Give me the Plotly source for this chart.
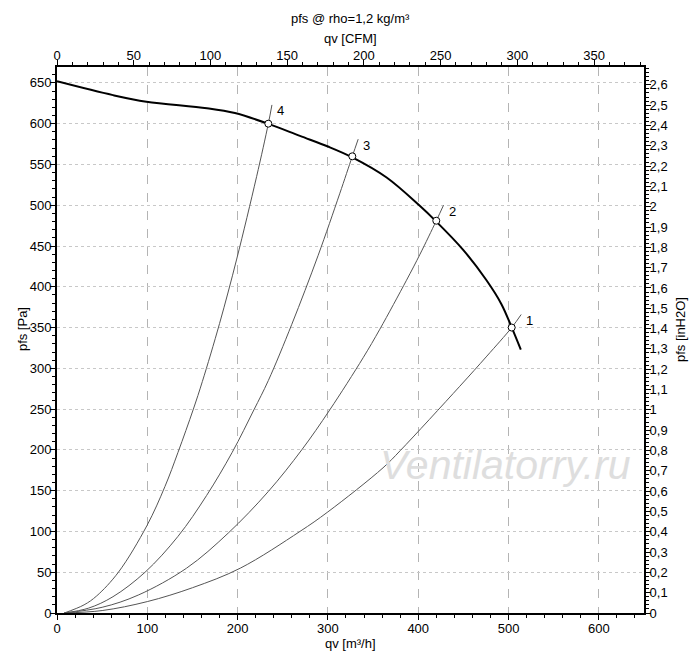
import plotly.graph_objects as go

# fan curve (qv in m3/h, pfs in Pa)
qv_fan = [0, 62, 99, 166, 197, 233.5, 269, 300, 326.5, 365, 402, 419.5, 450, 475.6, 492, 503.6, 513.6]
pfs_fan = [652, 635, 627, 619, 613, 600, 585, 572, 559, 534, 499, 480.5, 445, 408, 379, 350, 323]

# system curves 1..4
qv_sys1 = [8, 50, 100, 150, 203, 269, 300, 361, 380, 446, 476, 503.5, 514]
pfs_sys1 = [0, 3, 14, 31, 55, 100, 124, 178, 199, 278, 315, 350, 366]
qv_sys2 = [8, 50, 90, 143.5, 189.6, 234, 271, 302, 339, 357.5, 387, 402, 420, 428]
pfs_sys2 = [0, 7, 22, 55, 98, 149, 200, 249, 313, 348, 408, 440, 481, 500]
qv_sys3 = [8, 35, 62, 97.5, 134, 165.6, 194, 218, 234, 260, 289, 313, 327, 333.5]
pfs_sys3 = [0, 6, 20, 50, 94, 144, 197, 249, 285, 354, 438, 514, 560, 581]
qv_sys4 = [8, 30, 44, 68, 99.5, 119.5, 134, 151, 161, 180, 199, 221, 234, 238]
pfs_sys4 = [0, 10, 21, 50, 107, 155, 197, 250, 284, 355, 434, 535, 600, 623]

# operating points
op_labels = ["1", "2", "3", "4"]
op_qv = [503.5, 420, 327, 234]
op_pfs = [350, 481, 560, 600]

QV_MAX = 650
PFS_MAX = 669.5
M3H_PER_CFM = 1.69901
PA_PER_INH2O = 249.089

inh2o_ticks = [i / 10 for i in range(27)]
inh2o_text = [("%g" % v).replace(".", ",") for v in inh2o_ticks]

font = dict(family="Liberation Sans, Arial", size=13, color="black")

fig = go.Figure()

sys_curves = [(qv_sys1, pfs_sys1), (qv_sys2, pfs_sys2), (qv_sys3, pfs_sys3), (qv_sys4, pfs_sys4)]
for qs, ps in sys_curves:
    fig.add_trace(go.Scatter(x=qs, y=ps, mode="lines",
                             line=dict(color="#555555", width=1, shape="spline", smoothing=1),
                             hoverinfo="skip", showlegend=False))

fig.add_trace(go.Scatter(x=qv_fan, y=pfs_fan, mode="lines",
                         line=dict(color="black", width=2, shape="spline", smoothing=1),
                         showlegend=False))

fig.add_trace(go.Scatter(x=op_qv, y=op_pfs, mode="markers",
                         marker=dict(symbol="circle", size=7, color="white",
                                     line=dict(color="black", width=1)),
                         showlegend=False))

# dummy trace so the top / right axes are drawn
fig.add_trace(go.Scatter(x=[0], y=[0], xaxis="x2", yaxis="y2", mode="markers",
                         marker=dict(opacity=0), hoverinfo="skip", showlegend=False))

# curve number labels at the end of each system curve
for lab, (qs, ps) in zip(op_labels, sys_curves):
    fig.add_annotation(x=qs[-1], y=ps[-1], text=lab, showarrow=False,
                       xanchor="left", yanchor="middle", xshift=3, yshift=-6,
                       font=dict(family="Liberation Sans, Arial", size=13, color="black"))

# watermark
fig.add_annotation(x=497, y=181, text="<i>Ventilatorry.ru</i>", showarrow=False,
                   font=dict(family="Liberation Sans, Arial", size=41, color="#dedede"))

# titles
titles = [
    (0.5, 1.0897, "pfs @ rho=1,2 kg/m³", 0),
    (0.5, 1.0513, "qv [CFM]", 0),
    (0.5, -0.0555, "qv [m³/h]", 0),
    (-0.0596, 0.52, "pfs [Pa]", -90),
    (1.0613, 0.52, "pfs [inH2O]", -90),
]
for tx, ty, txt, ang in titles:
    fig.add_annotation(xref="paper", yref="paper", x=tx, y=ty, text=txt, textangle=ang,
                       xanchor="center", yanchor="middle", showarrow=False, font=font)

axis_common = dict(showline=True, linecolor="black", linewidth=2, ticks="outside",
                   ticklen=5, tickcolor="black", tickfont=font, zeroline=False,
                   automargin=False)

# page body has an 8px margin in the browser, so the figure is 8px smaller
fig.update_layout(
    width=692, height=657,
    margin=dict(l=49, r=56, t=59, b=52),
    paper_bgcolor="white", plot_bgcolor="white",
    xaxis=dict(range=[0, QV_MAX], dtick=100, showgrid=True, gridcolor="#b4b4b4",
               griddash="dash", gridwidth=1, ticklabelstandoff=-3,
               minor=dict(dtick=20, ticks="outside", ticklen=3, tickcolor="black", showgrid=False),
               **axis_common),
    yaxis=dict(range=[0, PFS_MAX], dtick=50, showgrid=True, gridcolor="#c8c8c8",
               griddash="dot", gridwidth=1, ticklabelstandoff=-4,
               minor=dict(dtick=10, ticks="outside", ticklen=3, tickcolor="black", showgrid=False),
               **axis_common),
    xaxis2=dict(range=[0, QV_MAX / M3H_PER_CFM], dtick=50, overlaying="x", side="top",
                anchor="y2", showgrid=False, ticklabelstandoff=-5,
                minor=dict(dtick=10, ticks="outside", ticklen=3, tickcolor="black"),
                **axis_common),
    yaxis2=dict(range=[0, PFS_MAX / PA_PER_INH2O], overlaying="y", side="right",
                anchor="x2", showgrid=False, tickvals=inh2o_ticks, ticktext=inh2o_text,
                ticklabelstandoff=-4,
                minor=dict(dtick=0.02, ticks="outside", ticklen=3, tickcolor="black"),
                **axis_common),
)

fig.write_html("out.html")
